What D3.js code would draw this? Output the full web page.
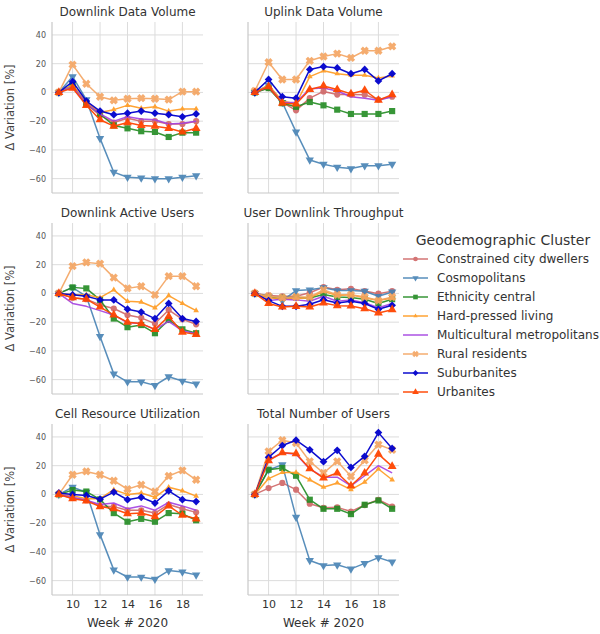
<!DOCTYPE html>
<html>
<head>
<meta charset="utf-8">
<script src="https://cdn.jsdelivr.net/npm/d3@7"></script>
<style>
  html, body { margin: 0; padding: 0; background: #fff; }
  svg { display: block; font-family: "DejaVu Sans", sans-serif; }
</style>
</head>
<body>
<svg id="chart" width="600" height="634"></svg>
<script>
// Weekly % variation of network KPIs per geodemographic cluster (baseline week 9)
const weeks = [9, 10, 11, 12, 13, 14, 15, 16, 17, 18, 19];
const xTicks = [10, 12, 14, 16, 18];
const yTicks = [-60, -40, -20, 0, 20, 40];

const clusters = [
  "Constrained city dwellers",
  "Cosmopolitans",
  "Ethnicity central",
  "Hard-pressed living",
  "Multicultural metropolitans",
  "Rural residents",
  "Suburbanites",
  "Urbanites"
];

const panelTitles = [
  "Downlink Data Volume",
  "Uplink Data Volume",
  "Downlink Active Users",
  "User Downlink Throughput",
  "Cell Resource Utilization",
  "Total Number of Users"
];

// rows follow the order of `clusters`
const dlDataVolume = [
  [0, 4, -8, -16, -21, -18, -20, -20, -22, -22, -20],
  [0, 11, -5, -32, -55.5, -59, -59.5, -60, -60, -59, -58],
  [0, 5, -8, -15, -23, -25, -27, -27.5, -31, -28, -28],
  [0, 5, -7, -14, -12, -9, -11, -10, -13, -11.5, -11.5],
  [0, 4, -8, -15, -20, -17, -18.5, -19, -22, -21.5, -20],
  [0, 19.3, 6, -3, -5.5, -4.4, -4, -4.4, -5, 0.5, 0.5],
  [0, 7.5, -6, -13, -15.5, -14.5, -13, -14.5, -15.5, -17, -15],
  [0, 3, -9, -19, -23.5, -21, -23, -23.5, -25, -27.5, -25]
];

const ulDataVolume = [
  [0, 3, -7, -12.5, -4, 0.7, -1.5, -1.5, -1.6, -5, -3],
  [0, 5, -7, -27.5, -47, -50, -52, -53, -51, -51, -50],
  [0, 3, -7.5, -10, -6.7, -9, -12, -15, -15, -15, -13],
  [0, 5, -6, -8, 11, 15, 13, 12, 12, 10, 11.5],
  [0, 4, -7, -7, 2.5, 3, 1, -3, -4, -5.5, -3],
  [1, 21, 9, 9, 22, 25, 27, 24, 29, 29, 32],
  [0, 9, -3, -4, 16, 18, 17, 13, 16, 8, 13],
  [0, 4, -7.5, -8, 2, 4.5, 2, -1, 1.5, -5.5, -1.5]
];

const dlActiveUsers = [
  [0, -3, -4, -8, -10.5, -15, -17, -21, -11.5, -18, -21.5],
  [0, 4, -2, -30, -56, -61.5, -61.5, -64, -58, -61, -63],
  [0, 4.2, 3.5, -4.5, -17.5, -23.5, -22, -27.7, -18.5, -25, -27.7],
  [0, -1, -1, -3, 2.5, -5.5, -6, -10, -1.5, -7, -12],
  [0, -7, -9, -12, -15, -20.5, -21, -25, -19.5, -26, -28],
  [0, 19, 21.6, 20.7, 11, 3.5, 5, -1, 12, 12, 5],
  [0, -1, -2, -4.5, -4.5, -11, -13, -17.5, -7, -17.5, -19.5],
  [0, -3, -4, -9.5, -15, -20, -21, -25, -16, -27, -28.5]
];

const userDlThroughput = [
  [0, -1.4, -2, -2, 0.5, 4.4, 2.5, 3.2, 1.6, -0.2, 1.6],
  [0, -2, -5, 2, 2.5, 4, 2, 2, 1.5, -2, 1],
  [0, -2.5, -3, -2.8, -3.2, -0.7, -2.5, -2.8, -4, -7, -4],
  [0, -3, -4, -3.5, -3, 1.4, -1.4, -1, -3, -5, -3.2],
  [0, -5, -4, -4.5, -5.5, -2, -5.5, -4.5, -6.5, -10, -7],
  [0, -2, -3, -2.5, -2.5, 2.5, -1, -1, -2.5, -5, -2.5],
  [0, -5, -9, -9, -7.6, -4.4, -6.7, -5.5, -7, -11, -8.3],
  [0, -7, -9.5, -9, -9.5, -6.7, -8.5, -8.8, -10.6, -13.6, -11.3]
];

const cellResourceUtil = [
  [0, -2.5, -4, -8, -8.5, -11, -11, -13, -7, -10, -12.5],
  [0, 5, 1.5, -28, -52.5, -57.5, -57.5, -59, -53, -54, -56],
  [0, 3, 2, -3.5, -13, -19, -17, -19, -13, -13.5, -18],
  [0, -1, -3, -3, 3.3, 0, 1, -2, 5, 2.5, -1.2],
  [0, -2, -4, -7, -6, -10, -8, -11, -5.5, -8, -11],
  [0, 13.7, 16, 13.7, 9.5, 3.7, 6.7, 2, 12.8, 16.7, 10.2],
  [1, 0, -0.7, -3.3, 1.6, -3.7, -2, -6, 2.5, -3.7, -5],
  [0, -3, -4.5, -8.5, -10, -13.5, -13, -15.5, -8, -14.5, -17]
];

const totalUsers = [
  [0, 4.4, 8, 3.3, -6.5, -9.3, -9, -11.9, -7.4, -3.7, -8.4],
  [0, 17, 20.7, -15.8, -46, -49.5, -49, -51.8, -48, -44, -47],
  [0, 17.2, 18.4, 13, -3.7, -10, -10, -13.7, -7.2, -4.2, -10],
  [0, 11, 15.3, 15.3, 10.2, 5, 8, 3.3, 8.6, 17.7, 10.2],
  [0, 24, 29, 28, 17.7, 12, 12, 6, 13, 20, 15],
  [0, 30, 37.7, 35.8, 23, 14.9, 23, 12.6, 23.7, 34.7, 31],
  [0, 25.8, 34, 37.7, 31, 22.8, 30.7, 18.8, 26.5, 43, 32],
  [0, 23.5, 29, 28.4, 17.9, 11.4, 14.9, 6, 14.9, 28, 19.5]
];

const panelValues = [dlDataVolume, ulDataVolume, dlActiveUsers,
                     userDlThroughput, cellResourceUtil, totalUsers];

// ---- styling per cluster ----
const colors = ["#cd5c5c", "#4682b4", "#228b22", "#ff9a1f",
                "#a33fe0", "#f4a460", "#0000cd", "#ff4500"];
const markers = ["circle", "tridown", "square", "smalltri",
                 null, "x", "diamond", "triup"];
const opacities = [0.85, 0.9, 0.9, 0.9, 0.9, 0.9, 0.95, 0.95];

// filled "X" marker: a plus shape rotated by 45 degrees
function xPath(r, t) {
  const plus = [[-t, -r], [t, -r], [t, -t], [r, -t], [r, t], [t, t],
                [t, r], [-t, r], [-t, t], [-r, t], [-r, -t], [-t, -t]];
  const c = Math.SQRT1_2;
  const pts = plus.map(([px, py]) => [(px - py) * c, (px + py) * c]);
  return "M" + pts.map(p => p[0].toFixed(2) + "," + p[1].toFixed(2)).join("L") + "Z";
}

function markerPath(kind, s) {
  // s: scale factor (1 for the plot markers)
  switch (kind) {
    case "circle":  return { d: d3.symbol(d3.symbolCircle, 30 * s * s)(), rot: 0 };
    case "square":  return { d: d3.symbol(d3.symbolSquare, 38 * s * s)(), rot: 0 };
    case "diamond": return { d: d3.symbol(d3.symbolSquare, 30 * s * s)(), rot: 45 };
    case "triup":   return { d: d3.symbol(d3.symbolTriangle, 34 * s * s)(), rot: 0 };
    case "tridown": return { d: d3.symbol(d3.symbolTriangle, 30 * s * s)(), rot: 180 };
    case "smalltri":return { d: d3.symbol(d3.symbolTriangle, 14 * s * s)(), rot: 0 };
    case "x":       return { d: xPath(4.2 * s, 1.7 * s), rot: 0 };
  }
  return null;
}

const svg = d3.select("#chart");

// ---- panel geometry ----
const colLeft = [52, 248];
const panelW = 151;
const rowTop = [22, 223, 424];
const panelH = 171;

const x = d3.scaleLinear().domain([8.5, 19.5]);
const y = d3.scaleLinear().domain([-70, 49]);

panelTitles.forEach((title, i) => {
  const col = i % 2, row = Math.floor(i / 2);
  const left = colLeft[col], top = rowTop[row];
  const xs = x.copy().range([0, panelW]);
  const ys = y.copy().range([panelH, 0]);
  const g = svg.append("g").attr("transform", `translate(${left},${top})`);

  // grid
  g.append("g").selectAll("line").data(xTicks).join("line")
    .attr("x1", d => xs(d)).attr("x2", d => xs(d))
    .attr("y1", 0).attr("y2", panelH)
    .attr("stroke", "#dcdcdc").attr("stroke-width", 1);
  g.append("g").selectAll("line").data(yTicks).join("line")
    .attr("x1", 0).attr("x2", panelW)
    .attr("y1", d => ys(d)).attr("y2", d => ys(d))
    .attr("stroke", "#dcdcdc").attr("stroke-width", 1);

  // spines (left & bottom only)
  g.append("line").attr("x1", 0).attr("x2", 0).attr("y1", 0).attr("y2", panelH)
    .attr("stroke", "#c8c8c8").attr("stroke-width", 1.2);
  g.append("line").attr("x1", 0).attr("x2", panelW).attr("y1", panelH).attr("y2", panelH)
    .attr("stroke", "#c8c8c8").attr("stroke-width", 1.2);

  // y tick labels on left column
  if (col === 0) {
    const yAxis = d3.axisLeft(ys).tickValues(yTicks).tickSize(0).tickPadding(6)
      .tickFormat(d => d < 0 ? "\u2212" + Math.abs(d) : String(d));
    const ya = g.append("g").call(yAxis);
    ya.select(".domain").remove();
    ya.selectAll("text").attr("fill", "#555").attr("font-size", 8)
      .attr("font-family", "DejaVu Sans, sans-serif");
    g.append("text")
      .attr("transform", `translate(-38,${panelH / 2}) rotate(-90)`)
      .attr("text-anchor", "middle")
      .attr("font-size", 11.5).attr("fill", "#444")
      .text("\u0394 Variation [%]");
  }

  // x tick labels on bottom row
  if (row === 2) {
    const xAxis = d3.axisBottom(xs).tickValues(xTicks).tickSize(0).tickPadding(5);
    const xa = g.append("g").attr("transform", `translate(0,${panelH})`).call(xAxis);
    xa.select(".domain").remove();
    xa.selectAll("text").attr("fill", "#333").attr("font-size", 11)
      .attr("font-family", "DejaVu Sans, sans-serif");
    g.append("text")
      .attr("x", panelW / 2).attr("y", panelH + 32)
      .attr("text-anchor", "middle").attr("font-size", 12).attr("fill", "#333")
      .text("Week # 2020");
  }

  // title
  g.append("text")
    .attr("x", panelW / 2).attr("y", -6)
    .attr("text-anchor", "middle").attr("font-size", 12).attr("fill", "#333")
    .text(title);

  // series
  const line = d3.line().x((d, j) => xs(weeks[j])).y(d => ys(d));
  const values = panelValues[i];
  values.forEach((vals, k) => {
    const sg = g.append("g").attr("opacity", opacities[k]);
    sg.append("path").attr("d", line(vals))
      .attr("fill", "none").attr("stroke", colors[k]).attr("stroke-width", 1.5)
      .attr("stroke-linejoin", "round");
    const m = markerPath(markers[k], 1);
    if (m) {
      sg.selectAll("path.mk").data(vals).join("path").attr("class", "mk")
        .attr("d", m.d)
        .attr("transform", (d, j) => `translate(${xs(weeks[j])},${ys(d)}) rotate(${m.rot})`)
        .attr("fill", colors[k]);
    }
  });
});

// ---- legend ----
const lg = svg.append("g");
lg.append("text").attr("x", 503).attr("y", 245)
  .attr("text-anchor", "middle").attr("font-size", 14).attr("fill", "#333")
  .text("Geodemographic Cluster");
clusters.forEach((name, k) => {
  const cy = 259 + k * 19;
  const eg = lg.append("g").attr("opacity", opacities[k]);
  eg.append("line").attr("x1", 403).attr("x2", 428).attr("y1", cy).attr("y2", cy)
    .attr("stroke", colors[k]).attr("stroke-width", 1.5);
  const m = markerPath(markers[k], 0.75);
  if (m) {
    eg.append("path").attr("d", m.d)
      .attr("transform", `translate(415.5,${cy}) rotate(${m.rot})`)
      .attr("fill", colors[k]);
  }
  lg.append("text").attr("x", 437).attr("y", cy).attr("dy", "0.35em")
    .attr("font-size", 12).attr("fill", "#333").text(name);
});
</script>
</body>
</html>
